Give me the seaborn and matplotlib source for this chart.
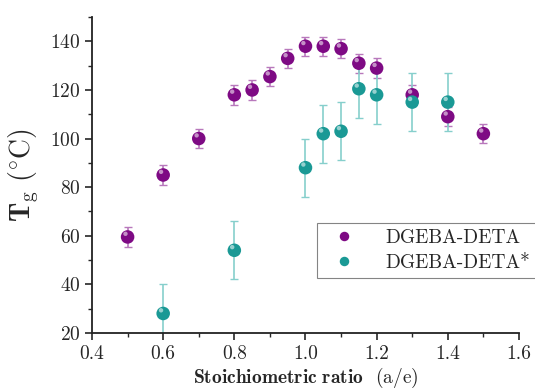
import numpy as np
import pandas as pd
import seaborn as sns
import matplotlib.pyplot as plt

# DGEBA-DETA
ratio_a = [0.5, 0.6, 0.7, 0.8, 0.85, 0.9, 0.95, 1.0, 1.05, 1.1, 1.15, 1.2, 1.3, 1.4, 1.5]
tg_a = [59.5, 85, 100, 118, 120, 125.5, 133, 138, 138, 137, 131, 129, 118, 109, 102]
err_a = [4, 4, 4, 4, 4, 4, 4, 4, 4, 4, 4, 4, 4, 4, 4]

# DGEBA-DETA*
ratio_b = [0.6, 0.8, 1.0, 1.05, 1.1, 1.15, 1.2, 1.3, 1.4]
tg_b = [28, 54, 88, 102, 103, 120.5, 118, 115, 115]
err_b = [12, 12, 12, 12, 12, 12, 12, 12, 12]

names = ['DGEBA-DETA', 'DGEBA-DETA*']
colors = ['#7e0a84', '#1a9995']
err_colors = ['#b878bc', '#86cfcc']

df = pd.concat([
    pd.DataFrame({'ratio': ratio_a, 'tg': tg_a, 'err': err_a, 'sample': names[0]}),
    pd.DataFrame({'ratio': ratio_b, 'tg': tg_b, 'err': err_b, 'sample': names[1]}),
])

sns.set_style('ticks')
plt.rcParams['font.family'] = ['cmr10', 'DejaVu Serif']
plt.rcParams['mathtext.fontset'] = 'cm'
plt.rcParams['axes.formatter.use_mathtext'] = True

fig = plt.figure(figsize=(5.35, 3.88), dpi=100)
ax = fig.add_axes([0.172, 0.142, 0.798, 0.814])

for name, ec in zip(names, err_colors):
    d = df[df['sample'] == name]
    ax.errorbar(d['ratio'], d['tg'], yerr=d['err'], fmt='none', ecolor=ec,
                elinewidth=1.2, capsize=3, capthick=1, zorder=2)

sns.scatterplot(data=df, x='ratio', y='tg', hue='sample', palette=colors,
                s=95, edgecolor='none', ax=ax, zorder=3)

# little highlight to mimic the shaded spheres
ax.scatter(df['ratio'] - 0.006, df['tg'] + 1.3, s=10, color='white', alpha=0.55,
           edgecolor='none', zorder=4)

ax.set_xlim(0.4, 1.6)
ax.set_ylim(20, 150)
ax.set_xticks(np.arange(0.4, 1.61, 0.2))
ax.set_xticks(np.arange(0.5, 1.6, 0.2), minor=True)
ax.set_yticks(np.arange(20, 141, 20))
ax.set_yticks(np.arange(30, 151, 20), minor=True)
ax.xaxis.set_major_formatter(plt.FuncFormatter(lambda v, p: f'{v:.1f}'))
ax.tick_params(which='major', length=5, width=1.2, labelsize=14, direction='out')
ax.tick_params(which='minor', length=3, width=1, direction='out')
for s in ['left', 'bottom']:
    ax.spines[s].set_linewidth(1.3)
    ax.spines[s].set_color('#222222')
sns.despine(ax=ax)

ax.set_xlabel(r'$\mathbf{Stoichiometric\ ratio}$  (a/e)', fontsize=14, labelpad=2)
ax.set_ylabel(r'$\mathbf{T}_{\mathrm{g}}\ (^{\circ}\mathrm{C})$', fontsize=20, labelpad=6)

leg = ax.legend(loc='lower right', bbox_to_anchor=(1.04, 0.175), borderaxespad=0,
                fontsize=14, frameon=True, fancybox=False, edgecolor='#666666',
                handletextpad=1.0, borderpad=0.3, labelspacing=0.35,
                handlelength=2.2, markerscale=0.7)
leg.get_frame().set_linewidth(0.8)

fig.savefig('out.png', dpi=100)
